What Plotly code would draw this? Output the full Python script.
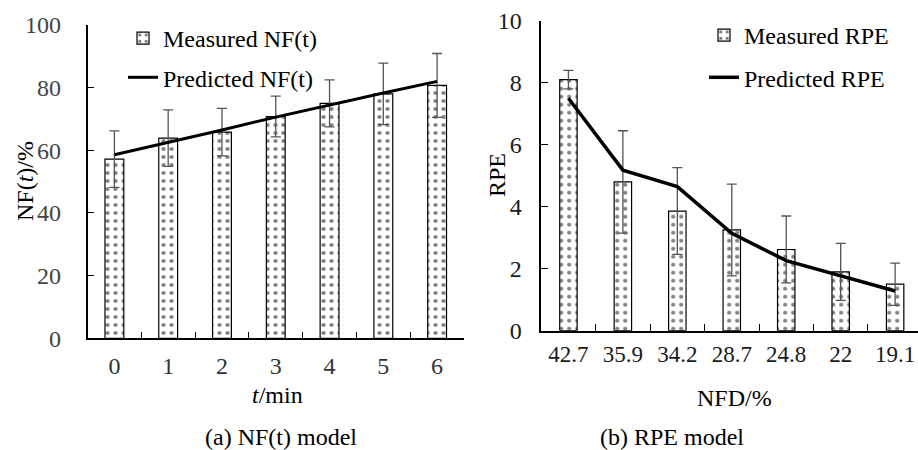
import plotly.graph_objects as go

# ---- data: (a) NF(t) model ----
t_labels = ["0", "1", "2", "3", "4", "5", "6"]
nf_measured = [57.2, 63.9, 65.8, 70.8, 75.0, 78.0, 80.7]
nf_err = [9.0, 9.0, 7.6, 6.5, 7.5, 9.8, 10.2]
nf_predicted = [58.6, 62.5, 66.5, 70.6, 74.5, 78.3, 82.0]

# ---- data: (b) RPE model ----
nfd_labels = ["42.7", "35.9", "34.2", "28.7", "24.8", "22", "19.1"]
rpe_measured = [8.10, 4.80, 3.86, 3.25, 2.62, 1.90, 1.50]
rpe_err = [0.30, 1.65, 1.40, 1.48, 1.08, 0.92, 0.68]
rpe_predicted = [7.50, 5.18, 4.65, 3.14, 2.26, 1.76, 1.28]

W, H = 918, 450
FONT = "'Liberation Serif', 'Times New Roman', 'DejaVu Serif', serif"
FS = 24

def px(x):
    return x / W

def py(y):
    return 1 - y / H

pattern = dict(shape=".", fgcolor="black", bgcolor="white", size=8, solidity=0.22)

fig = go.Figure()

fig.add_trace(go.Bar(
    x=t_labels, y=nf_measured, name="Measured NF(t)", width=0.35,
    marker=dict(color="white", pattern=pattern, line=dict(color="black", width=1.2)),
    error_y=dict(type="data", array=nf_err, visible=True, color="#555", thickness=1.3, width=5),
    xaxis="x", yaxis="y", legend="legend", legendgroup="a1",
))
fig.add_trace(go.Scatter(
    x=t_labels, y=nf_predicted, name="Predicted NF(t)", mode="lines",
    line=dict(color="black", width=3),
    xaxis="x", yaxis="y", legend="legend", legendgroup="a2",
))
fig.add_trace(go.Bar(
    x=nfd_labels, y=rpe_measured, name="Measured RPE", width=0.32,
    marker=dict(color="white", pattern=pattern, line=dict(color="black", width=1.2)),
    error_y=dict(type="data", array=rpe_err, visible=True, color="#555", thickness=1.3, width=5),
    xaxis="x2", yaxis="y2", legend="legend2", legendgroup="b1",
))
fig.add_trace(go.Scatter(
    x=nfd_labels, y=rpe_predicted, name="Predicted RPE", mode="lines",
    line=dict(color="black", width=3.5),
    xaxis="x2", yaxis="y2", legend="legend2", legendgroup="b2",
))

axis_common = dict(
    showline=True, linecolor="black", linewidth=1.5, mirror=False,
    ticks="inside", ticklen=7, tickwidth=1.3, tickcolor="black",
    showgrid=False, zeroline=False, fixedrange=True, automargin=False,
)

fig.update_layout(
    width=W, height=H,
    margin=dict(l=0, r=0, t=0, b=0, pad=0, autoexpand=False),
    paper_bgcolor="white", plot_bgcolor="white",
    font=dict(family=FONT, size=FS, color="black"),
    showlegend=True,
    xaxis=dict(**axis_common, type="category", domain=[px(87.5), px(464)], range=[-0.5, 6.5],
               tickson="boundaries", anchor="y",
               tickfont=dict(family=FONT, size=FS, color="#333"), ticklabelstandoff=5),
    yaxis=dict(**axis_common, domain=[py(338.3), py(25)], range=[0, 100], dtick=20, anchor="x",
               tickfont=dict(family=FONT, size=FS, color="#444"), ticklabelstandoff=20),
    xaxis2=dict(**axis_common, type="category", domain=[px(541.2), 1.0], range=[-0.5, 6.42],
                tickson="boundaries", anchor="y2",
                tickfont=dict(family=FONT, size=23, color="#1a1a1a"), ticklabelstandoff=2),
    yaxis2=dict(**axis_common, domain=[py(330.7), py(20.7)], range=[0, 10], dtick=2, anchor="x2",
                tickfont=dict(family=FONT, size=FS, color="#1a1a1a"), ticklabelstandoff=13),
    legend=dict(x=px(123), y=py(16), xanchor="left", yanchor="top",
                xref="container", yref="container",
                bgcolor="rgba(0,0,0,0)", font=dict(family=FONT, size=FS, color="black"),
                tracegroupgap=5, traceorder="grouped"),
    legend2=dict(x=px(704), y=py(13), xanchor="left", yanchor="top",
                 xref="container", yref="container",
                 bgcolor="rgba(0,0,0,0)", font=dict(family=FONT, size=FS, color="black"),
                 tracegroupgap=8, traceorder="grouped"),
    bargap=0.6,
)

ann = dict(xref="paper", yref="paper", showarrow=False,
           font=dict(family=FONT, size=FS, color="black"), xanchor="center", yanchor="middle")
fig.add_annotation(text="<i>t</i>/min", x=px(277), y=py(395), **ann)
fig.add_annotation(text="NFD/%", x=px(734), y=py(398), **ann)
fig.add_annotation(text="(a) NF(t) model", x=px(281), y=py(437), **ann)
fig.add_annotation(text="(b) RPE model", x=px(672), y=py(437), **ann)
fig.add_annotation(text="NF(<i>t</i>)/%", x=px(25), y=py(181), textangle=-90, **ann)
fig.add_annotation(text="RPE", x=px(497), y=py(175), textangle=-90, **ann)

fig.write_html("out.html", config={"displayModeBar": False},
               post_script="document.body.style.margin='0px';")
